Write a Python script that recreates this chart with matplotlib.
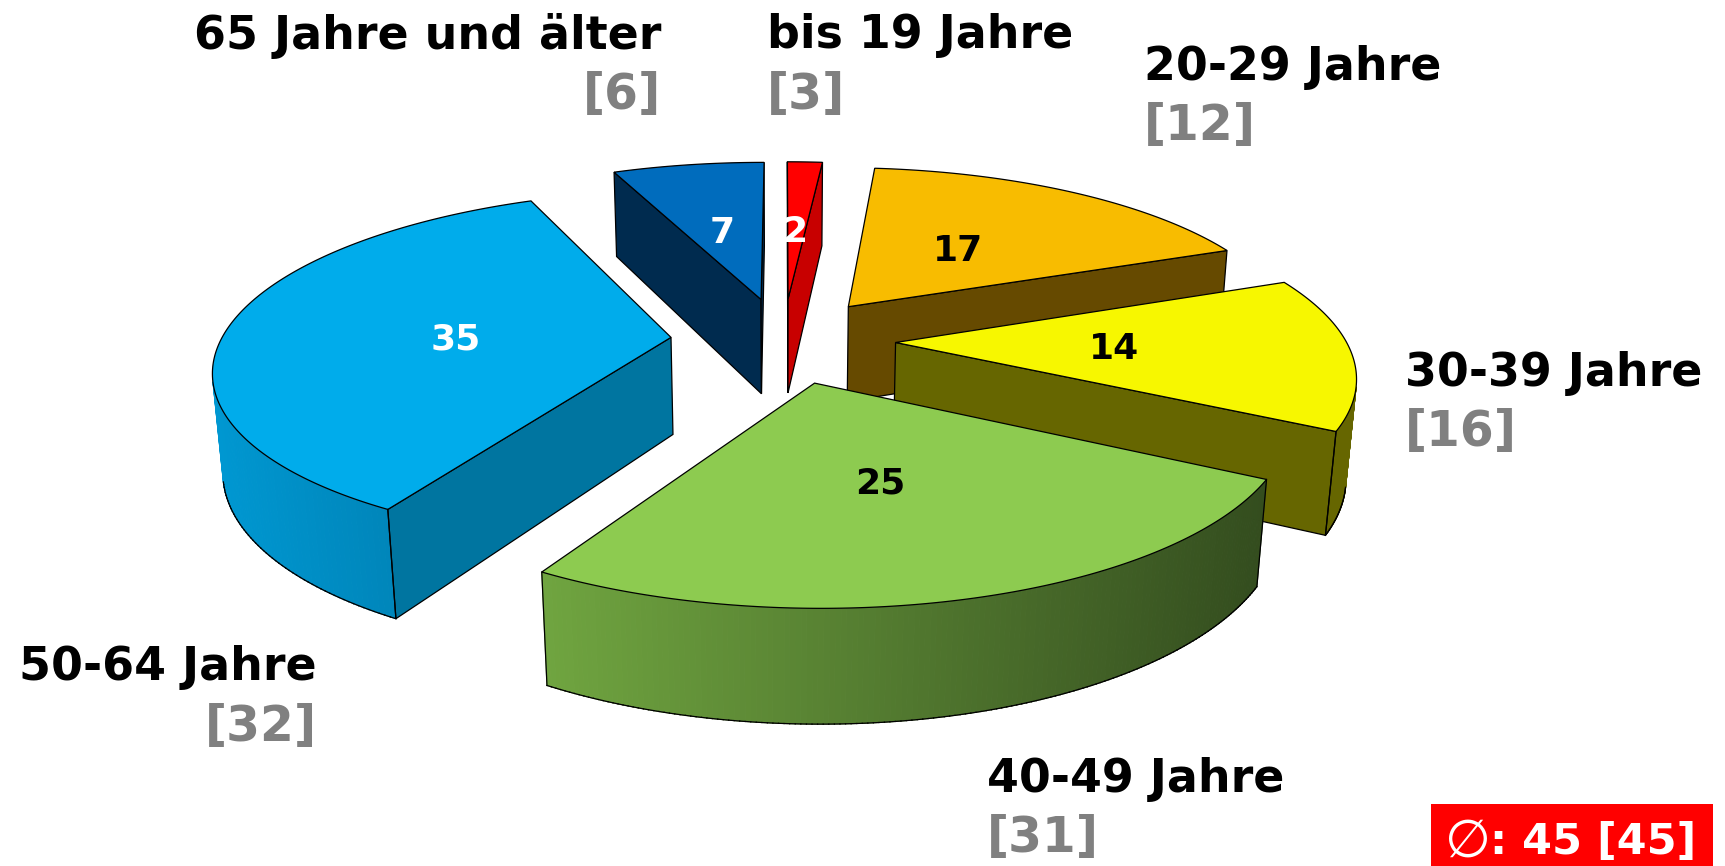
#3D exploded pie of age groups
import numpy as np
import matplotlib
matplotlib.use('Agg')
import matplotlib.pyplot as plt
from matplotlib.patches import Polygon, Rectangle
from matplotlib.colors import to_rgb

plt.rcParams['font.family'] = ['DejaVu Sans']

categories = ['bis 19 Jahre', '20-29 Jahre', '30-39 Jahre', '40-49 Jahre', '50-64 Jahre', '65 Jahre und älter']
shares = [1.5, 17.5, 13.9, 25.6, 35.1, 6.5]
shown = ['2', '17', '14', '25', '35', '7']
previous = ['[3]', '[12]', '[16]', '[31]', '[32]', '[6]']
average_mark = '∅'
average_text = ': 45 [45]'

top_colors = ['#ff0000', '#f8bc00', '#f7f700', '#8dcb50', '#00aceb', '#006cbd']
wall_colors = ['#c80000', '#664a00', '#666600', '#3a5520', '#0075a0', '#002b4f']
arc_left = ['#ff0000', '#664a00', '#666600', '#70a540', '#0098d2', '#002b4f']
arc_right = ['#c80000', '#664a00', '#666600', '#334c1e', '#0078a8', '#002b4f']
value_colors = ['white', 'black', 'black', 'black', 'white', 'white']

# projection of the pie, in pixels
CX, CY = 783.0, 340.0
RX, RY, DEPTH = 450.0, 172.0, 99.0
PERSP, PERSP_Z = 0.165, 0.018
EXPLODE = 0.25
N = 160


def project(x, y, z):
    w = 1 + PERSP * y + PERSP_Z * z
    return np.column_stack([CX + RX * x / w, CY - (RY * y - DEPTH * z) / w])


def area(q):
    x, y = q[:, 0], q[:, 1]
    return np.sum(x * np.roll(y, -1) - np.roll(x, -1) * y) / 2


fig = plt.figure(figsize=(17.25, 8.66), dpi=100)
ax = fig.add_axes([0, 0, 1, 1])
ax.set_xlim(0, 1725)
ax.set_ylim(866, 0)
ax.axis('off')

edges = np.concatenate([[0], np.cumsum(shares)]) / sum(shares) * 2 * np.pi


def draw_wedge(i):
    a0, a1 = edges[i], edges[i + 1]
    mid = (a0 + a1) / 2
    ox, oy = EXPLODE * np.sin(mid), EXPLODE * np.cos(mid)
    t = np.linspace(a0, a1, N)
    xs, ys = ox + np.sin(t), oy + np.cos(t)

    top = project(np.r_[ox, xs], np.r_[oy, ys], np.zeros(N + 1))
    low = project(np.r_[ox, xs], np.r_[oy, ys], np.ones(N + 1))

    # curved outer wall, only the part facing the viewer
    xmin, xmax = top[1:, 0].min(), top[1:, 0].max()
    c0, c1 = np.array(to_rgb(arc_left[i])), np.array(to_rgb(arc_right[i]))
    visible = []
    for k in range(1, N):
        q = np.array([top[k], top[k + 1], low[k + 1], low[k]])
        if area(q) < 0:
            f = (q[:, 0].mean() - xmin) / max(xmax - xmin, 1)
            col = tuple(c0 + (c1 - c0) * f)
            ax.add_patch(Polygon(q, closed=True, fc=col, ec=col, lw=0.8))
            visible.append(k)
    for k in visible:
        ax.plot(low[k:k + 2, 0], low[k:k + 2, 1], color='black', lw=0.9)
    if visible and visible[0] == 1:
        ax.plot(*np.array([top[1], low[1]]).T, color='black', lw=0.9)
    if visible and visible[-1] == N - 1:
        ax.plot(*np.array([top[N], low[N]]).T, color='black', lw=0.9)

    # radial walls
    q0 = np.array([top[0], top[1], low[1], low[0]])
    q1 = np.array([top[0], top[N], low[N], low[0]])
    if area(q0) < 0:
        ax.add_patch(Polygon(q0, closed=True, fc=wall_colors[i], ec='black', lw=0.9))
    if area(q1) > 0:
        ax.add_patch(Polygon(q1, closed=True, fc=wall_colors[i], ec='black', lw=0.9))

    ax.add_patch(Polygon(top, closed=True, fc=top_colors[i], ec='black', lw=0.9))


# back slices first
for i in [0, 5, 1, 2, 4, 3]:
    draw_wedge(i)

# values on the slices
value_pos = [(795, 232), (958, 251), (1114, 349), (880, 484), (456, 339), (722, 233)]
for txt, (x, y), col in zip(shown, value_pos, value_colors):
    ax.text(x, y, txt, ha='center', va='center', fontsize=26, fontweight='bold', color=col)

# outer labels
label_pos = [(767, 36, 'left'), (1144, 67, 'left'), (1405, 373, 'left'),
             (987, 779, 'left'), (317, 668, 'right'), (661, 36, 'right')]
for name, prev, (x, y, ha) in zip(categories, previous, label_pos):
    ax.text(x, y, name, ha=ha, va='center', fontsize=33, fontweight='bold', color='black')
    ax.text(x, y + 59, prev, ha=ha, va='center', fontsize=35, fontweight='bold', color='#808080')

ax.add_patch(Rectangle((1431, 804), 282, 62, fc='#ff0000', ec='none'))
ax.text(1468, 842, average_mark, ha='center', va='center', fontsize=38, color='white')
ax.text(1490, 842, average_text, ha='left', va='center', fontsize=31, fontweight='bold', color='white')

fig.savefig('out.png', dpi=100)
